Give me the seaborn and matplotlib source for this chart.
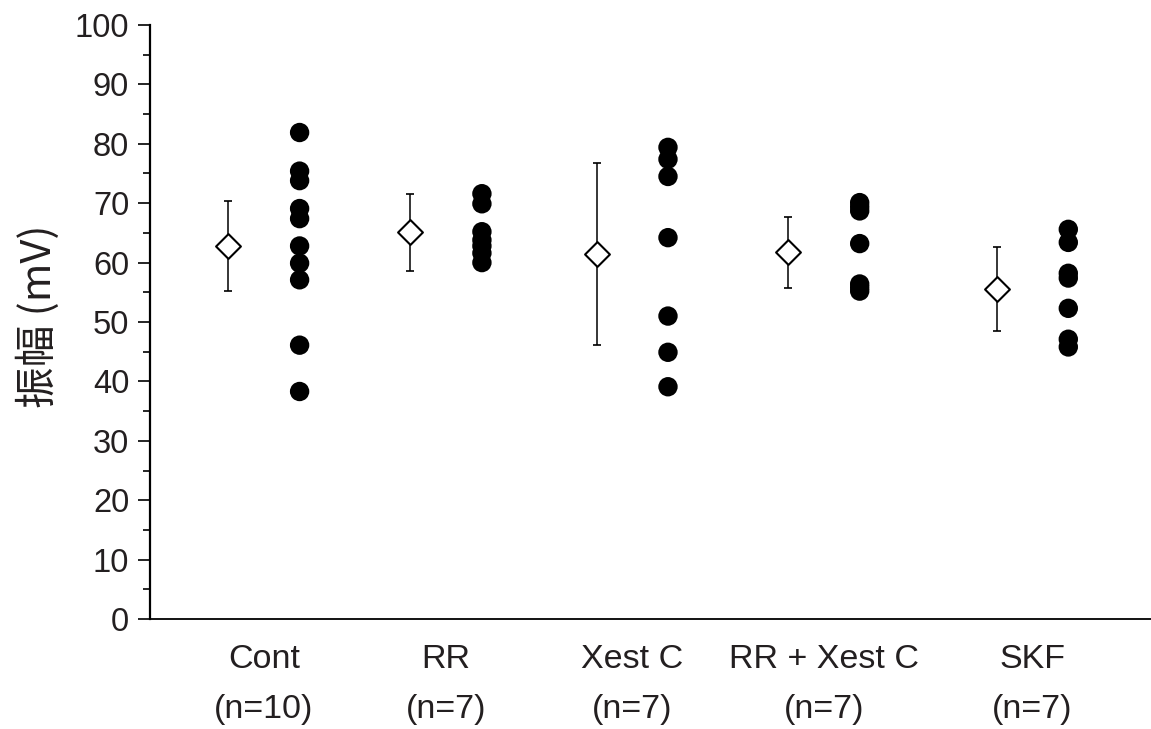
import numpy as np
import pandas as pd
import seaborn as sns
import matplotlib.pyplot as plt
from matplotlib.ticker import MultipleLocator

# ---------------- data ----------------
categories = ["Cont", "RR", "Xest C", "RR + Xest C", "SKF"]
n_labels = ["(n=10)", "(n=7)", "(n=7)", "(n=7)", "(n=7)"]

cont = [81.9, 75.4, 73.8, 69.1, 67.4, 62.8, 59.9, 57.1, 46.1, 38.3]
rr = [71.6, 69.9, 65.2, 63.8, 62.8, 61.6, 60.0]
xest_c = [79.4, 77.4, 74.5, 64.2, 51.0, 44.9, 39.1]
rr_xest_c = [70.1, 69.4, 68.7, 63.2, 56.4, 55.8, 55.2]
skf = [65.6, 63.4, 58.2, 57.4, 52.3, 47.1, 45.8]

means = [62.8, 65.1, 61.4, 61.8, 55.6]
err_upper = [70.4, 71.5, 76.7, 67.6, 62.7]
err_lower = [55.3, 58.6, 46.1, 55.8, 48.5]

# ---------------- layout ----------------
group_pos = [0.0, 0.97, 1.96, 2.98, 4.09]
offset = 0.19
text_color = "#231f20"

sns.set_theme(style="ticks")
plt.rcParams['font.family'] = ['Liberation Sans', 'Noto Sans CJK SC', 'DejaVu Sans']

fig = plt.figure(figsize=(11.51, 7.29), dpi=100)
ax = fig.add_axes([150 / 1151, 1 - 619 / 729, 1001 / 1151, 594 / 729])

groups = [cont, rr, xest_c, rr_xest_c, skf]
rows = []
for cat, p, vals in zip(categories, group_pos, groups):
    for v in vals:
        rows.append({"group": cat, "x": p + offset, "value": v})
df = pd.DataFrame(rows)

sns.scatterplot(data=df, x="x", y="value", color="black", s=195,
                edgecolor="none", linewidth=0, ax=ax, zorder=3, legend=False)

pos = np.array(group_pos)
m = np.array(means)
up = np.array(err_upper)
lo = np.array(err_lower)
ax.errorbar(pos - offset, m, yerr=[m - lo, up - m], fmt="none",
            ecolor="black", elinewidth=1.1, capsize=3.2, capthick=1.2, zorder=2)
sns.scatterplot(x=pos - offset, y=m, marker="D", s=160, color="white",
                edgecolor="black", linewidth=1.5, ax=ax, zorder=4, legend=False)

ax.set_xlim(-0.606, 4.72)
ax.set_ylim(0, 100)
ax.yaxis.set_major_locator(MultipleLocator(10))
ax.yaxis.set_minor_locator(MultipleLocator(5))
ax.set_xticks(group_pos)
ax.set_xticklabels([f"{c}\n{n}" for c, n in zip(categories, n_labels)])
for t in ax.get_xticklabels():
    t.set_linespacing(1.78)

ax.tick_params(axis="x", length=0, labelsize=24.5, pad=18, colors=text_color)
ax.tick_params(axis="y", which="major", length=9, width=1.2, labelsize=23.5,
               pad=6, colors=text_color)
ax.tick_params(axis="y", which="minor", length=5, width=1.2, colors=text_color)
ax.tick_params(axis="y", which="both", color="black")

sns.despine(ax=ax, top=True, right=True)
ax.spines["left"].set_linewidth(1.6)
ax.spines["bottom"].set_linewidth(1.3)
ax.spines["left"].set_color("black")
ax.spines["bottom"].set_color("black")

ax.set_xlabel("")
ax.set_ylabel("振幅 (mV)", fontsize=30, color=text_color,
              family=['Noto Sans CJK SC', 'Liberation Sans'])
ax.yaxis.set_label_coords(-0.090, 0.51)

fig.savefig("out.png", dpi=100)
